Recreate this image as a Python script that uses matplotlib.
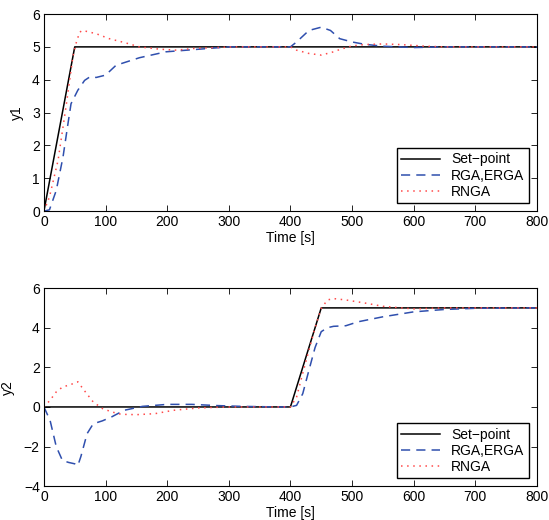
import matplotlib as mpl
mpl.use('Agg')
import matplotlib.pyplot as plt

plt.rcParams['font.family'] = ['Liberation Sans', 'DejaVu Sans']
plt.rcParams['font.size'] = 10

# set-points
sp1_t = [0, 50, 800]
sp1_y = [0, 5, 5]
sp2_t = [0, 400, 450, 800]
sp2_y = [0, 0, 5, 5]

# y1 responses
rga1_t = [0, 9, 20, 31, 39, 44, 55, 66, 74, 85, 100, 117, 155, 198, 252, 300,
          400, 410, 430, 450, 465, 480, 500, 520, 550, 600, 650, 800]
rga1_y = [0, 0.04, 0.63, 1.65, 2.66, 3.27, 3.68, 3.98, 4.08, 4.07, 4.14, 4.44, 4.67, 4.85, 4.93, 5.0,
          5.0, 5.15, 5.5, 5.6, 5.5, 5.25, 5.15, 5.08, 5.02, 4.98, 5.0, 5.0]
rnga1_t = [0, 9, 23, 36, 47, 52, 58, 63, 85, 106, 133, 155, 188, 215, 242, 306,
           400, 410, 430, 450, 470, 480, 500, 520, 550, 580, 620, 650, 800]
rnga1_y = [0, 0.43, 1.55, 3.2, 4.7, 5.1, 5.45, 5.5, 5.4, 5.25, 5.12, 5.0, 4.93, 4.9, 4.95, 5.0,
           5.0, 4.9, 4.8, 4.75, 4.85, 4.92, 5.03, 5.07, 5.09, 5.07, 5.02, 5.0, 5.0]

# y2 responses
rga2_t = [0, 10, 20, 30, 40, 50, 55, 60, 70, 80, 95, 110, 130, 160, 200, 240, 280, 320, 380,
          400, 410, 420, 430, 440, 450, 460, 470, 490, 510, 550, 600, 650, 700, 800]
rga2_y = [0, -0.68, -2.0, -2.7, -2.8, -2.87, -2.96, -2.5, -1.35, -0.85, -0.7, -0.5, -0.17, 0.03, 0.13, 0.13, 0.07, 0.03, 0.0,
          0.0, 0.08, 0.67, 1.85, 3.0, 3.8, 4.0, 4.07, 4.1, 4.3, 4.55, 4.8, 4.92, 4.98, 5.0]
rnga2_t = [0, 10, 20, 30, 45, 55, 65, 80, 95, 110, 125, 150, 180, 210, 250, 300,
           400, 410, 420, 430, 440, 450, 460, 470, 490, 520, 550, 600, 650, 800]
rnga2_y = [0, 0.34, 0.76, 1.0, 1.15, 1.27, 0.85, 0.25, -0.08, -0.25, -0.37, -0.39, -0.34, -0.17, -0.05, 0.0,
           0.0, 0.5, 1.7, 2.86, 4.0, 4.97, 5.4, 5.47, 5.4, 5.25, 5.08, 4.95, 5.0, 5.0]

blue = '#2f4fae'
red = '#ff4a4a'

fig = plt.figure(figsize=(5.49, 5.2), dpi=100)
ax1 = fig.add_axes([0.080, 0.594, 0.898, 0.379])
ax2 = fig.add_axes([0.080, 0.065, 0.898, 0.381])


def style(ax, ylim, yticks, ylabel):
    ax.set_xlim(0, 800)
    ax.set_ylim(*ylim)
    ax.set_xticks(range(0, 801, 100))
    ax.set_yticks(yticks)
    ax.tick_params(direction='in', top=True, right=True, length=4, width=0.6, pad=3)
    for s in ax.spines.values():
        s.set_linewidth(0.8)
    ax.set_xlabel('Time [s]', labelpad=1)
    ax.set_ylabel(ylabel, labelpad=6)


for ax, spt, spy, bt, by, rt, ry in ((ax1, sp1_t, sp1_y, rga1_t, rga1_y, rnga1_t, rnga1_y),
                                      (ax2, sp2_t, sp2_y, rga2_t, rga2_y, rnga2_t, rnga2_y)):
    ax.plot(spt, spy, color='black', lw=1.1, label='Set\u2212point')
    ax.plot(bt, by, color=blue, lw=1.1, ls=(0, (6, 4)), label='RGA,ERGA')
    ax.plot(rt, ry, color=red, lw=1.1, ls=(0, (1, 3)), label='RNGA')
    ax.legend(loc='lower right', fancybox=False, edgecolor='black', framealpha=1,
              borderaxespad=0.6, handlelength=2.8, labelspacing=0.15, borderpad=0.3)

style(ax1, (0, 6), range(0, 7), 'y1')
style(ax2, (-4, 6), range(-4, 7, 2), 'y2')

plt.savefig('out.png', dpi=100)
plt.close()
